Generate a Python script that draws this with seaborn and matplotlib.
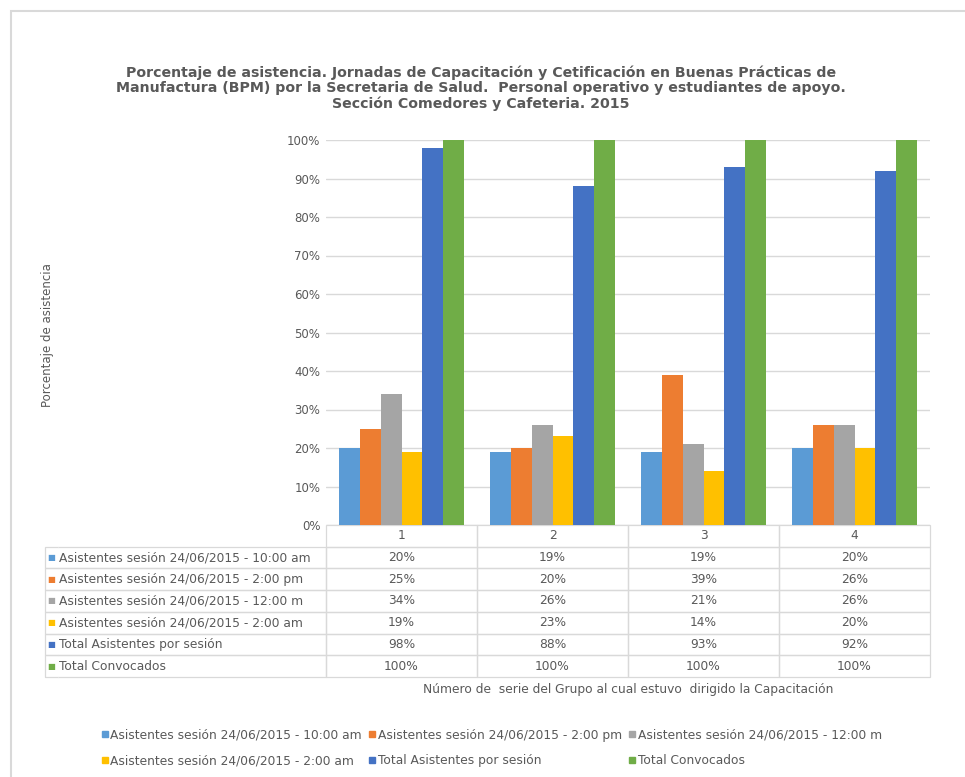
import matplotlib
matplotlib.use("Agg")
import matplotlib.pyplot as plt
import seaborn as sns
import pandas as pd
from matplotlib.lines import Line2D
from matplotlib.patches import Rectangle
from matplotlib.ticker import FuncFormatter

# ---------------- data ----------------
grupos = ["1", "2", "3", "4"]
series = [
    "Asistentes sesión 24/06/2015 - 10:00 am",
    "Asistentes sesión 24/06/2015 - 2:00 pm",
    "Asistentes sesión 24/06/2015 - 12:00 m",
    "Asistentes sesión 24/06/2015 - 2:00 am",
    "Total Asistentes por sesión",
    "Total Convocados",
]
s_1000am = [20, 19, 19, 20]
s_200pm = [25, 20, 39, 26]
s_1200m = [34, 26, 21, 26]
s_200am = [19, 23, 14, 20]
total_asist = [98, 88, 93, 92]
total_conv = [100, 100, 100, 100]
yticks = [0, 10, 20, 30, 40, 50, 60, 70, 80, 90, 100]

colors = ["#5B9BD5", "#ED7D31", "#A5A5A5", "#FFC000", "#4472C4", "#70AD47"]
title = ("Porcentaje de asistencia. Jornadas de Capacitación y Cetificación en Buenas Prácticas de\n"
         "Manufactura (BPM) por la Secretaria de Salud.  Personal operativo y estudiantes de apoyo.\n"
         "Sección Comedores y Cafeteria. 2015")
ylabel = "Porcentaje de asistencia"
xlabel = "Número de  serie del Grupo al cual estuvo  dirigido la Capacitación"

values = [s_1000am, s_200pm, s_1200m, s_200am, total_asist, total_conv]
rows = []
for name, vals in zip(series, values):
    for g, v in zip(grupos, vals):
        rows.append({"grupo": g, "serie": name, "valor": v})
df = pd.DataFrame(rows)

# ---------------- figure ----------------
sns.set_theme(style="white")
plt.rcParams["font.family"] = ["DejaVu Sans"]
TXT = "#595959"
GRID = "#D9D9D9"

W, H = 965, 777
fig = plt.figure(figsize=(W / 100, H / 100), dpi=100)
fig.patch.set_facecolor("white")

ax_l, ax_r, ax_b, ax_t = 326, 930, 525, 140
ax = fig.add_axes([ax_l / W, 1 - ax_b / H, (ax_r - ax_l) / W, (ax_b - ax_t) / H])

sns.barplot(data=df, x="grupo", y="valor", hue="serie", hue_order=series,
            order=grupos, palette=colors, width=0.83, ax=ax, legend=False,
            saturation=1, edgecolor="none")

ax.set_ylim(0, 100)
ax.set_xlim(-0.5, 3.5)
ax.set_yticks(yticks)
ax.yaxis.set_major_formatter(FuncFormatter(lambda v, p: f"{int(v)}%"))
ax.grid(axis="y", color=GRID, linewidth=1)
ax.set_axisbelow(True)
for sp in ax.spines.values():
    sp.set_visible(False)
ax.set_xticks(range(len(grupos)))
ax.set_xticklabels([])
ax.tick_params(axis="both", length=0, labelsize=8.5, labelcolor=TXT, pad=4)
ax.set_xlabel("")
ax.set_ylabel("")

# ---------------- data table ----------------
cell_text = []
for name, vals in zip(series, values):
    cell_text.append(["■", name] + [f"{v}%" for v in vals])
col_labels = ["", ""] + grupos
widths_px = [13, 268, 151, 151, 151, 151]
tot_w = sum(widths_px)
col_widths = [w / tot_w for w in widths_px]

tb_left, tb_right, tb_top, tb_bot = 45, 930, 525, 677
axw, axh = ax_r - ax_l, ax_b - ax_t
bbox = [(tb_left - ax_l) / axw, -(tb_bot - ax_b) / axh,
        (tb_right - tb_left) / axw, (tb_bot - tb_top) / axh]
tbl = ax.table(cellText=cell_text, colLabels=col_labels, colWidths=col_widths,
               cellLoc="center", bbox=bbox)
tbl.auto_set_font_size(False)
tbl.set_fontsize(8.8)
for (r, c), cell in tbl.get_celld().items():
    cell.set_edgecolor(GRID)
    cell.set_linewidth(0.9)
    cell.set_facecolor("none")
    cell.get_text().set_color(TXT)
    if r == 0 and c < 2:
        cell.visible_edges = ""
    elif r > 0 and c == 0:
        cell.visible_edges = "BTL"
        cell.get_text().set_color(colors[r - 1])
        cell.get_text().set_fontsize(6)
    elif r > 0 and c == 1:
        cell.visible_edges = "BTR"
        cell.get_text().set_ha("left")
        cell.PAD = 0.005

# ---------------- texts ----------------
fig.text(481 / W, 1 - 88 / H, title, ha="center", va="center", fontsize=10.2,
         fontweight="bold", color=TXT, linespacing=1.12)
fig.text(48 / W, 1 - 335 / H, ylabel, rotation=90, ha="center", va="center",
         fontsize=8.5, color=TXT)
fig.text(628 / W, 1 - 690 / H, xlabel, ha="center", va="center",
         fontsize=8.8, color=TXT)

# ---------------- legend ----------------
handles = [Line2D([0], [0], marker="s", linestyle="none", markersize=4.5,
                  markerfacecolor=col, markeredgecolor=col, label=name)
           for name, col in zip(series, colors)]
order = [0, 3, 1, 4, 2, 5]
leg = fig.legend([handles[i] for i in order], [series[i] for i in order],
                 ncol=3, loc="center", bbox_to_anchor=(492 / W, 1 - 748 / H),
                 frameon=False, fontsize=8.8, handlelength=0.5,
                 handletextpad=0.2, columnspacing=0.6, labelcolor=TXT,
                 labelspacing=1.05)

# outer chart border
fig.patches.append(Rectangle((11 / W, -0.02), 1.1, 1 - 11 / H + 0.02,
                             transform=fig.transFigure, fill=False,
                             edgecolor=GRID, linewidth=1.5))

fig.savefig("out.png", dpi=100)
